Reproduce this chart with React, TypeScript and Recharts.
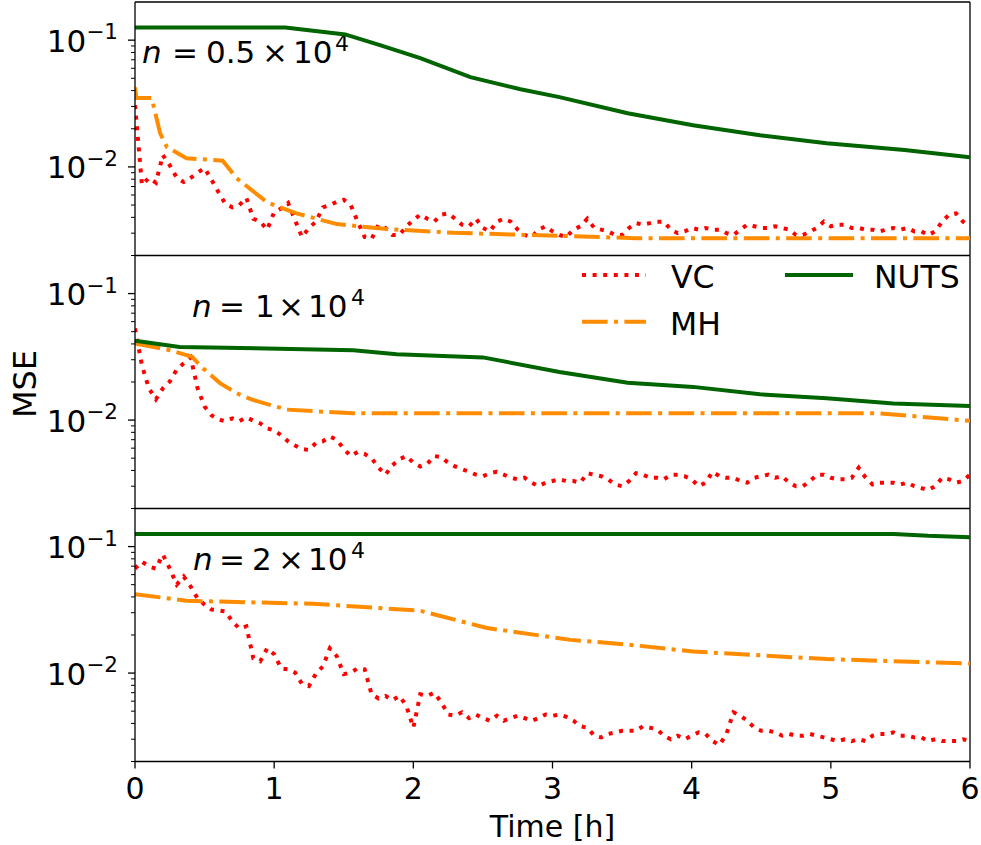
import React from 'react';
import { LineChart, Line, XAxis, YAxis, ReferenceLine } from 'recharts';

const FONT = '"DejaVu Sans", "Liberation Sans", sans-serif';

// time grid (hours) for the VC runs: one reading every 0.05 h
const VC_T = Array.from({ length: 121 }, (_, i) => Math.round(i * 5) / 100);

const VC_05 = [
  0.0307, 0.0072, 0.0082, 0.0075, 0.0124, 0.0103, 0.0082, 0.0076, 0.0082, 0.0090,
  0.0098, 0.0079, 0.0063, 0.0051, 0.0048, 0.0050, 0.0057, 0.0039, 0.0037, 0.0032,
  0.0044, 0.0047, 0.0052, 0.0038, 0.0028, 0.0033, 0.0037, 0.0048, 0.0050, 0.0053,
  0.0055, 0.0050, 0.0037, 0.0028, 0.0027, 0.0035, 0.0033, 0.0029, 0.0029, 0.0034,
  0.0038, 0.0042, 0.0039, 0.0037, 0.0042, 0.0043, 0.0039, 0.0035, 0.0034, 0.0039,
  0.0033, 0.0031, 0.0037, 0.0039, 0.0037, 0.0032, 0.0029, 0.0028, 0.0032, 0.0034,
  0.0031, 0.0029, 0.0028, 0.0032, 0.0034, 0.0039, 0.0033, 0.0032, 0.0031, 0.0029,
  0.0029, 0.0033, 0.0036, 0.0035, 0.0036, 0.0037, 0.0037, 0.0032, 0.0030, 0.0031,
  0.0033, 0.0032, 0.0033, 0.0032, 0.0032, 0.0030, 0.0029, 0.0032, 0.0035, 0.0034,
  0.0033, 0.0033, 0.0034, 0.0033, 0.0032, 0.0029, 0.0029, 0.0031, 0.0033, 0.0037,
  0.0034, 0.0035, 0.0035, 0.0033, 0.0033, 0.0032, 0.0032, 0.0031, 0.0032, 0.0033,
  0.0032, 0.0033, 0.0031, 0.0031, 0.0029, 0.0031, 0.0037, 0.0042, 0.0043, 0.0037,
  0.0034,
];

const VC_1 = [
  0.053, 0.027, 0.0178, 0.0146, 0.0178, 0.0202, 0.0251, 0.0281, 0.0313, 0.0178,
  0.0128, 0.0109, 0.0101, 0.0098, 0.0103, 0.0098, 0.0105, 0.0099, 0.0094, 0.0086,
  0.0083, 0.0076, 0.0068, 0.0063, 0.0059, 0.0058, 0.0066, 0.0068, 0.0074, 0.0070,
  0.0059, 0.0052, 0.0056, 0.0054, 0.0050, 0.0042, 0.0037, 0.0044, 0.0049, 0.0052,
  0.0046, 0.0043, 0.0045, 0.0052, 0.0051, 0.0046, 0.0043, 0.0041, 0.0039, 0.0037,
  0.0036, 0.0038, 0.0039, 0.0037, 0.0035, 0.0034, 0.0035, 0.0032, 0.0030, 0.0032,
  0.0033, 0.0034, 0.0033, 0.0033, 0.0032, 0.0038, 0.0037, 0.0036, 0.0034, 0.0031,
  0.0030, 0.0033, 0.0038, 0.0037, 0.0035, 0.0035, 0.0034, 0.0037, 0.0037, 0.0036,
  0.0034, 0.0030, 0.0032, 0.0039, 0.0036, 0.0035, 0.0035, 0.0033, 0.0032, 0.0035,
  0.0036, 0.0037, 0.0035, 0.0036, 0.0032, 0.0030, 0.0030, 0.0033, 0.0037, 0.0037,
  0.0035, 0.0034, 0.0034, 0.0035, 0.0042, 0.0035, 0.0031, 0.0032, 0.0032, 0.0032,
  0.0031, 0.0032, 0.0030, 0.0029, 0.0028, 0.0030, 0.0035, 0.0034, 0.0032, 0.0033,
  0.0037,
];

const VC_2 = [
  0.067, 0.076, 0.0695, 0.067, 0.0865, 0.067, 0.0501, 0.058, 0.0483, 0.0389,
  0.0348, 0.0318, 0.0313, 0.0307, 0.0256, 0.0225, 0.0234, 0.0131, 0.0124, 0.0157,
  0.0141, 0.0109, 0.0107, 0.0101, 0.0082, 0.0079, 0.0099, 0.0113, 0.0157, 0.0136,
  0.0098, 0.0101, 0.0109, 0.0107, 0.0068, 0.0063, 0.0066, 0.0061, 0.0066, 0.0055,
  0.0037, 0.0068, 0.0066, 0.0070, 0.0059, 0.0047, 0.0046, 0.0049, 0.0044, 0.0047,
  0.0044, 0.0042, 0.0046, 0.0042, 0.0044, 0.0046, 0.0044, 0.0042, 0.0044, 0.0047,
  0.0046, 0.0047, 0.0045, 0.0042, 0.0038, 0.0037, 0.0032, 0.0031, 0.0033, 0.0034,
  0.0035, 0.0035, 0.0035, 0.0038, 0.0037, 0.0036, 0.0032, 0.0030, 0.0032, 0.0030,
  0.0032, 0.0034, 0.0033, 0.0029, 0.0027, 0.0033, 0.0049, 0.0046, 0.0042, 0.0037,
  0.0035, 0.0035, 0.0034, 0.0032, 0.0033, 0.0032, 0.0032, 0.0033, 0.0032, 0.0031,
  0.0030, 0.0029, 0.0030, 0.0029, 0.0030, 0.0029, 0.0032, 0.0033, 0.0033, 0.0034,
  0.0032, 0.0032, 0.0031, 0.0031, 0.0029, 0.0030, 0.0029, 0.0029, 0.0029, 0.0030,
  0.0029,
];

const MH_05_T = [0, 0.01, 0.12, 0.18, 0.23, 0.37, 0.63, 0.73, 0.95, 1.16, 1.45, 1.81, 2.29, 3.13, 3.6, 6];
const MH_05 = [0.0425, 0.035, 0.035, 0.0185, 0.0143, 0.0117, 0.0112, 0.00815, 0.00525, 0.0043, 0.00354, 0.00323, 0.00302, 0.00284, 0.00274, 0.00274];

const MH_1_T = [0, 0.25, 0.41, 0.49, 0.61, 0.73, 0.85, 1.09, 1.57, 5.35, 6];
const MH_1 = [0.0403, 0.0357, 0.0316, 0.0256, 0.0196, 0.0163, 0.0144, 0.0121, 0.0113, 0.0113, 0.00986];

const MH_2_T = [0, 0.37, 1.28, 2.05, 2.53, 3.13, 3.54, 4.01, 4.97, 6];
const MH_2 = [0.0421, 0.0373, 0.0353, 0.0311, 0.0227, 0.0183, 0.0168, 0.0148, 0.0129, 0.0119];

const NUTS_05_T = [0, 1.08, 1.51, 1.76, 2.05, 2.41, 2.77, 3.05, 3.54, 4.01, 4.49, 4.97, 5.53, 6];
const NUTS_05 = [0.126, 0.126, 0.111, 0.0914, 0.0721, 0.0511, 0.041, 0.0355, 0.0265, 0.0213, 0.0178, 0.0154, 0.0136, 0.0119];

const NUTS_1_T = [0, 0.32, 1.57, 1.88, 2.5, 3.05, 3.54, 4.01, 4.49, 4.97, 5.45, 6];
const NUTS_1 = [0.0423, 0.0379, 0.0357, 0.0332, 0.0313, 0.024, 0.0197, 0.0183, 0.016, 0.0149, 0.01355, 0.0129];

const NUTS_2_T = [0, 5.45, 5.7, 6];
const NUTS_2 = [0.126, 0.126, 0.1216, 0.1186];

const X_TICKS = [0, 1, 2, 3, 4, 5, 6];
const Y_TICKS = [
  0.002, 0.003, 0.004, 0.005, 0.006, 0.007, 0.008, 0.009,
  0.01, 0.02, 0.03, 0.04, 0.05, 0.06, 0.07, 0.08, 0.09, 0.1,
];
const Y_DOMAIN: [number, number] = [0.002, 0.2];

const SERIES_NAMES = ['VC', 'MH', 'NUTS'];
const PANEL_N = ['0.5', '1', '2'];

const COLORS = { VC: '#ff0000', MH: '#ff8c00', NUTS: '#006400' };
const DASH = { VC: '4 6.6', MH: '25.6 6.4 4 6.4' };

const zip = (t: number[], v: number[]) => t.map((x, i) => ({ t: x, v: v[i] }));

const YTick = (props: any) => {
  const { x, y, payload } = props;
  const lg = Math.log10(payload.value);
  const major = Math.abs(lg - Math.round(lg)) < 1e-6;
  const len = major ? 7 : 4;
  return (
    <g>
      <line x1={x - len} x2={x} y1={y} y2={y} stroke="#000" strokeWidth={major ? 1.3 : 1} />
      {major && (
        <text x={x - 17} y={y + 11.5} textAnchor="end" fontFamily={FONT} fontSize={31} fill="#000">
          <tspan>10</tspan>
          <tspan fontSize={21.5} dy={-12.5}>{'\u2212' + Math.abs(Math.round(lg))}</tspan>
        </text>
      )}
    </g>
  );
};

type Ann = { base: number; xs: number[] };
const PANELS = [
  { top: 2, bottom: 255.5, vc: VC_05, mh: zip(MH_05_T, MH_05), nuts: zip(NUTS_05_T, NUTS_05),
    ann: { base: 63, xs: [142, 172, 206, 262, 293, 335] } as Ann },
  { top: 255.5, bottom: 508.5, vc: VC_1, mh: zip(MH_1_T, MH_1), nuts: zip(NUTS_1_T, NUTS_1),
    ann: { base: 317, xs: [192, 219, 255, 278, 308, 351] } as Ann },
  { top: 508.5, bottom: 761.5, vc: VC_2, mh: zip(MH_2_T, MH_2), nuts: zip(NUTS_2_T, NUTS_2),
    ann: { base: 570, xs: [193, 219, 252, 278, 308, 351] } as Ann },
];

function Panel({ idx }: { idx: number }) {
  const p = PANELS[idx];
  const last = idx === PANELS.length - 1;
  const vcData = zip(VC_T, p.vc);
  const a = p.ann;
  return (
    <div style={{ position: 'absolute', left: 0, top: 0 }}>
      <LineChart
        width={981}
        height={845}
        margin={{ top: p.top, right: 11, left: 0, bottom: last ? 0 : 845 - p.bottom }}
      >
        <XAxis
          type="number"
          dataKey="t"
          domain={[0, 6]}
          ticks={X_TICKS}
          interval={0}
          allowDataOverflow
          height={last ? 845 - p.bottom : 0}
          axisLine={{ stroke: '#000', strokeWidth: 1.3 }}
          tick={last ? { fill: '#000', fontSize: 30, fontFamily: FONT } : false}
          tickLine={last ? { stroke: '#000', strokeWidth: 1.3 } : false}
          tickSize={7}
          tickMargin={9.5}
        />
        <YAxis
          type="number"
          scale="log"
          domain={Y_DOMAIN}
          ticks={Y_TICKS}
          interval={0}
          allowDataOverflow
          width={135}
          tickLine={false}
          tickSize={0}
          tickMargin={0}
          tick={(tp: any) => <YTick {...tp} />}
          axisLine={{ stroke: '#000', strokeWidth: 1.3 }}
        />
        <ReferenceLine y={Y_DOMAIN[1]} stroke="#000" strokeWidth={1.3} />
        <ReferenceLine x={6} stroke="#000" strokeWidth={1.3} />
        <Line data={vcData} dataKey="v" name="VC" type="linear" stroke={COLORS.VC} strokeWidth={4}
          strokeDasharray={DASH.VC} dot={false} isAnimationActive={false} />
        <Line data={p.mh} dataKey="v" name="MH" type="linear" stroke={COLORS.MH} strokeWidth={4}
          strokeDasharray={DASH.MH} dot={false} isAnimationActive={false} />
        <Line data={p.nuts} dataKey="v" name="NUTS" type="linear" stroke={COLORS.NUTS} strokeWidth={4}
          dot={false} isAnimationActive={false} />
        <text y={a.base} fontFamily={FONT} fontSize={31} fill="#000">
          <tspan x={a.xs[0]} fontStyle="italic">n</tspan>
          <tspan x={a.xs[1]}>=</tspan>
          <tspan x={a.xs[2]}>{PANEL_N[idx]}</tspan>
          <tspan x={a.xs[3]}>{'\u00d7'}</tspan>
          <tspan x={a.xs[4]}>10</tspan>
          <tspan x={a.xs[5]} fontSize={22} dy={-12}>4</tspan>
        </text>
        {idx === 1 && (
          <g>
            <line x1={582} x2={646} y1={275} y2={275} stroke={COLORS.VC} strokeWidth={4} strokeDasharray={DASH.VC} />
            <text x={671} y={288} fontFamily={FONT} fontSize={31.5} fill="#000">{SERIES_NAMES[0]}</text>
            <line x1={582} x2={646} y1={321.7} y2={321.7} stroke={COLORS.MH} strokeWidth={4} strokeDasharray={DASH.MH} />
            <text x={670} y={335} fontFamily={FONT} fontSize={31.5} fill="#000">{SERIES_NAMES[1]}</text>
            <line x1={785} x2={853} y1={275} y2={275} stroke={COLORS.NUTS} strokeWidth={4} />
            <text x={874} y={288} fontFamily={FONT} fontSize={31.5} fill="#000">{SERIES_NAMES[2]}</text>
            <text x={36} y={384} transform="rotate(-90 36 384)" textAnchor="middle" fontFamily={FONT} fontSize={32} fill="#000">MSE</text>
          </g>
        )}
        {last && (
          <text x={552.5} y={837} textAnchor="middle" fontFamily={FONT} fontSize={30} fill="#000">Time [h]</text>
        )}
      </LineChart>
    </div>
  );
}

export default function App() {
  return (
    <div style={{ position: 'absolute', left: 0, top: 0, width: 981, height: 845, background: '#fff', overflow: 'hidden' }}>
      <Panel idx={0} />
      <Panel idx={1} />
      <Panel idx={2} />
    </div>
  );
}
